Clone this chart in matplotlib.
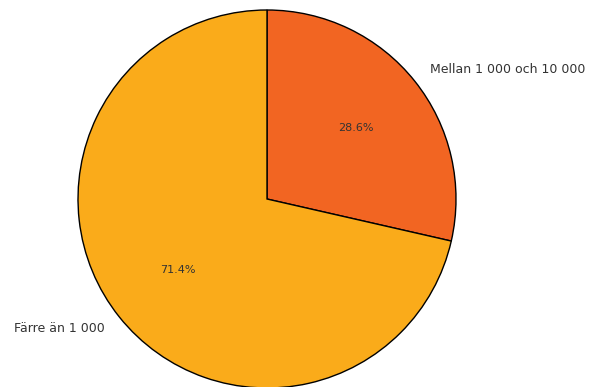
import matplotlib
matplotlib.use("Agg")
import matplotlib.pyplot as plt

labels = ["Mellan 1 000 och 10 000", "Färre än 1 000"]
values = [2, 5]
colors = ["#F26522", "#FAAB1A"]

fig = plt.figure(figsize=(5.89, 3.87), dpi=100)
ax = fig.add_axes([0, 0, 1, 1])
wedges, texts, autotexts = ax.pie(
    values, labels=labels, colors=colors, autopct="%1.1f%%",
    startangle=90, counterclock=False,
    wedgeprops=dict(edgecolor="black", linewidth=1),
    textprops=dict(fontsize=9, color="#333333"),
)
for t in autotexts:
    t.set_fontsize(8)
    t.set_color("#333333")

r = 189.0
cx, cy = 267.0, 199.0
W, H = 589.0, 387.0
ax.set_aspect("auto")
ax.set_xlim(-cx / r, (W - cx) / r)
ax.set_ylim(-(H - cy) / r, cy / r)
ax.axis("off")
fig.savefig("out.png", dpi=100)
